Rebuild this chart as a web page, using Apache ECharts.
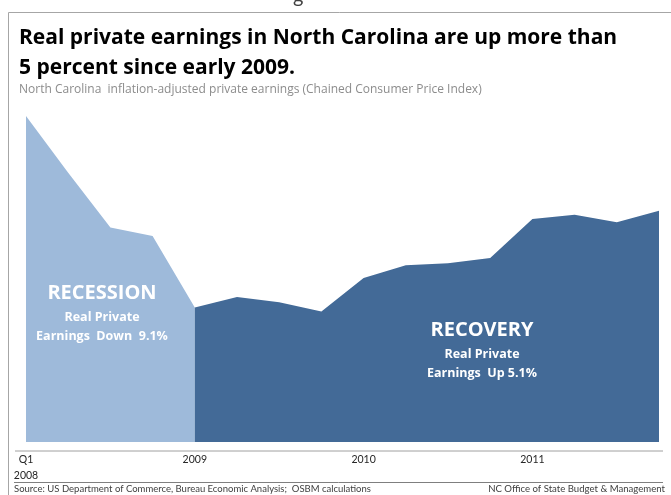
<!DOCTYPE html>
<html>
<head>
<meta charset="utf-8">
<script src="https://cdn.jsdelivr.net/npm/echarts@6/dist/echarts.min.js"></script>
<style>
html,body{margin:0;padding:0;background:#fff;}
#c{width:671px;height:495px;}
</style>
</head>
<body>
<div id="c"></div>
<script>
// Quarters 2008 Q1 .. 2011 Q4
const categories = ['2008 Q1','2008 Q2','2008 Q3','2008 Q4','2009 Q1','2009 Q2','2009 Q3','2009 Q4',
  '2010 Q1','2010 Q2','2010 Q3','2010 Q4','2011 Q1','2011 Q2','2011 Q3','2011 Q4'];
// Index-like earnings level (2008 Q1 = 100)
const recession = [100.0, 97.3, 94.7, 94.3, 90.9, null, null, null, null, null, null, null, null, null, null, null];
const recovery  = [null, null, null, null, 90.9, 91.4, 91.15, 90.7, 92.3, 92.9, 93.0, 93.25, 95.1, 95.3, 94.95, 95.5];
const tickLabels = {0: 'Q1\n2008', 4: '2009', 8: '2010', 12: '2011'};

const FONT = 'Lato';
const TFONT = '"Open Sans"';
const chart = echarts.init(document.getElementById('c'), null, {renderer: 'canvas'});
const txt = (o) => Object.assign({type: 'text', z: 100}, o);
chart.setOption({
  animation: false,
  backgroundColor: '#fff',
  grid: {left: 26, right: 12, top: 105.5, bottom: 53},
  xAxis: {
    type: 'category',
    data: categories,
    boundaryGap: false,
    offset: 9,
    axisLine: {show: false},
    axisTick: {show: false},
    splitLine: {show: false},
    axisLabel: {
      interval: 0,
      margin: 1,
      color: '#262626',
      fontFamily: FONT,
      fontSize: 10.5,
      lineHeight: 16,
      formatter: (v, i) => tickLabels[i] || ''
    }
  },
  yAxis: {
    type: 'value', min: 84.5, max: 100.5, show: false,
    splitLine: {show: false}
  },
  series: [
    {
      name: 'Recession', type: 'line', data: recession, showSymbol: false,
      lineStyle: {width: 0}, itemStyle: {color: '#9EBADA'},
      areaStyle: {color: '#9EBADA', opacity: 1}, z: 2
    },
    {
      name: 'Recovery', type: 'line', data: recovery, showSymbol: false,
      lineStyle: {width: 0}, itemStyle: {color: '#436A97'},
      areaStyle: {color: '#436A97', opacity: 1}, z: 3
    }
  ],
  graphic: [
    {type: 'line', shape: {x1: 8.5, y1: 12.5, x2: 671, y2: 12.5}, style: {stroke: '#A6A6A6', lineWidth: 1}},
    {type: 'line', shape: {x1: 8.5, y1: 12.5, x2: 8.5, y2: 495}, style: {stroke: '#A6A6A6', lineWidth: 1}},
    {type: 'line', shape: {x1: 15, y1: 451, x2: 663, y2: 451}, style: {stroke: '#A0A0A0', lineWidth: 1}},
    {type: 'line', shape: {x1: 14, y1: 482.5, x2: 663, y2: 482.5}, style: {stroke: '#7F7F7F', lineWidth: 1}},
    txt({left: 293, top: -13, style: {text: 'g', font: '20px ' + FONT, fill: '#404040'}}),
    txt({x: 19, y: 38, style: {text: 'Real private earnings in North Carolina are up more than', font: 'bold 21px ' + TFONT, fill: '#000', verticalAlign: 'middle'}}),
    txt({x: 19, y: 68, style: {text: '5 percent since early 2009.', font: 'bold 21px ' + TFONT, fill: '#000', verticalAlign: 'middle'}}),
    txt({x: 19, y: 90, style: {text: 'North Carolina  inflation-adjusted private earnings (Chained Consumer Price Index)', font: '12px ' + TFONT, fill: '#8C8C8C', verticalAlign: 'middle'}}),
    txt({x: 102, y: 293, style: {text: 'RECESSION', font: 'bold 20px ' + TFONT, fill: '#fff', align: 'center', verticalAlign: 'middle'}}),
    txt({x: 102, y: 317, style: {text: 'Real Private', font: 'bold 12.5px ' + TFONT, fill: '#fff', align: 'center', verticalAlign: 'middle'}}),
    txt({x: 102, y: 336, style: {text: 'Earnings  Down  9.1%', font: 'bold 12.5px ' + TFONT, fill: '#fff', align: 'center', verticalAlign: 'middle'}}),
    txt({x: 482, y: 330, style: {text: 'RECOVERY', font: 'bold 20px ' + TFONT, fill: '#fff', align: 'center', verticalAlign: 'middle'}}),
    txt({x: 482, y: 354, style: {text: 'Real Private', font: 'bold 12.5px ' + TFONT, fill: '#fff', align: 'center', verticalAlign: 'middle'}}),
    txt({x: 482, y: 373, style: {text: 'Earnings  Up 5.1%', font: 'bold 12.5px ' + TFONT, fill: '#fff', align: 'center', verticalAlign: 'middle'}}),
    txt({x: 14, y: 489, style: {text: 'Source: US Department of Commerce, Bureau Economic Analysis;  OSBM calculations', font: '9.5px ' + FONT, fill: '#404040', verticalAlign: 'middle'}}),
    txt({x: 665, y: 489, style: {text: 'NC Office of State Budget & Management', font: '9.6px ' + FONT, fill: '#404040', align: 'right', verticalAlign: 'middle'}})
  ]
});
</script>
</body>
</html>
